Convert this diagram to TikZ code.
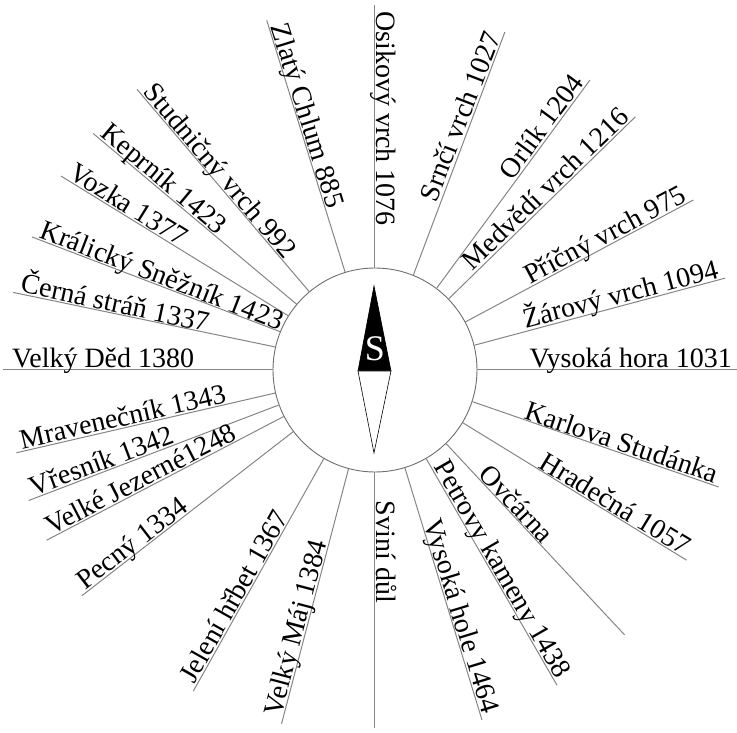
\documentclass[tikz,border=0pt]{standalone}
\usepackage{fontspec}
\setmainfont{Liberation Serif}
\usepackage{tikz}
\usetikzlibrary{positioning}
\definecolor{rayGray}{HTML}{858585}
\definecolor{dialGray}{HTML}{6E6E6E}
\tikzset{
  dial/.style={circle, draw=dialGray, line width=0.9pt, fill=white, minimum size=204pt, inner sep=0pt},
  ray/.style={draw=rayGray, line width=1pt},
  peak/.style={inner sep=0pt, font=\fontsize{28}{32}\selectfont},
  needle/.style={draw=black, line width=0.6pt, line join=miter},
}

\begin{document}
\begin{tikzpicture}[x=1pt, y=1pt]
  \useasboundingbox (-375,-363) rectangle (362,370);
  \node[dial] (dial) at (0,0) {};
  % east half: names read outward
  \foreach \ang/\len/\rr/\name [count=\i] in {
      -90/358/233/{Sviní důl}, -73/366/361/{Vysoká hole 1464}, -60/364/359/{Petrovy kameny 1438},
      -46.7/364/242/{Ovčárna}, -31.4/365/360/{Hradečná 1057}, -18.8/363/358/{Karlova Studánka},
      0/362/357/{Vysoká hora 1031}, 14.7/362/357/{Žárový vrch 1094}, 28.1/361/356/{Příčný vrch 975},
      44.2/363/358/{Medvědí vrch 1216}, 53.45/361/356/{Orlík 1204}, 68.98/362/357/{Srnčí vrch 1027}}{
    \draw[ray] (dial.\ang) -- (\ang:\len) coordinate (east\i);
    \node[peak, rotate=\ang, anchor=base east] (peakE\i) at (\ang:\rr) {\raisebox{2pt}{\name}};
  }
  % west half: names read inward
  \foreach \ang/\len/\rr/\name [count=\i] in {
      90/365/359/{Osikový vrch 1076}, 107.2/366/359/{Zlatý Chlum 885}, 130.3/368/362/{Studničný vrch 992},
      140/368/362/{Keprník 1423}, 148.3/369/363/{Vozka 1377}, 158.8/368/362/{Králický Sněžník 1423},
      167.9/370/364/{Černá stráň 1337}, 180/372/363/{Velký Děd 1380}, 193/368/362/{Mravenečník 1343},
      200.65/370/364/{Vřesník 1342}, 207.4/370/364/{Velké Jezerné1248}, 217.6/370/364/{Pecný 1334},
      240.5/369/363/{Jelení hřbet 1367}, 255.2/366/360/{Velký Máj 1384}}{
    \draw[ray] (dial.\ang) -- (\ang:\len) coordinate (west\i);
    \node[peak, rotate=\ang-180, anchor=base west] (peakW\i) at (\ang:\rr) {\raisebox{2pt}{\name}};
  }
  % compass needle
  \filldraw[needle, fill=black] (-1,84) -- (-17,-1) -- (16,-1) -- cycle;
  \filldraw[needle, fill=white] (-17,-1) -- (-1,-83) -- (16,-1) -- cycle;
  \node[font=\fontsize{36}{40}\selectfont, text=white, inner sep=0pt] (pole) at (0,21) {S};
\end{tikzpicture}
\end{document}
